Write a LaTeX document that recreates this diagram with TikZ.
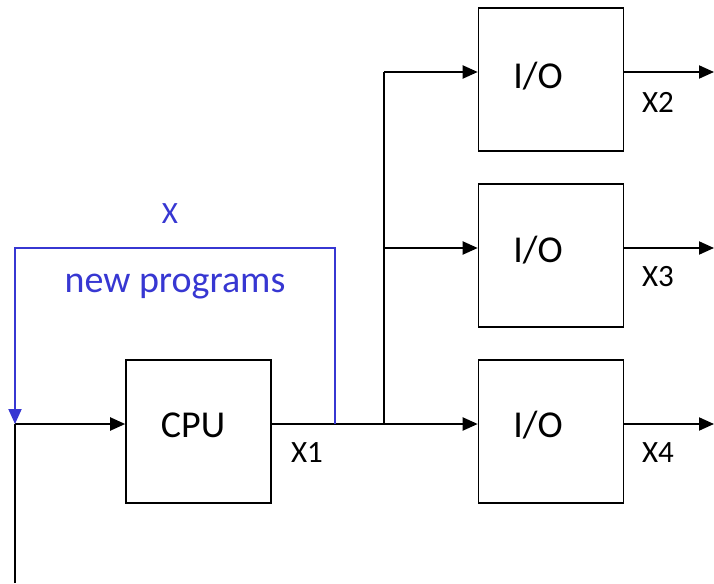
\documentclass[tikz,border=0pt]{standalone}
\usepackage{fontspec}
\setmainfont{Carlito}
\usetikzlibrary{arrows.meta}
\definecolor{fb}{RGB}{55,55,210}
\begin{document}
\begin{tikzpicture}[x=1pt,y=-1pt,
  box/.style={draw,line width=1.6pt,minimum width=145pt,minimum height=143pt,inner sep=0pt},
  conn/.style={line width=2pt},
  arr/.style={conn,-{Triangle[length=15pt,width=13pt]}},
  lbl/.style={font=\fontsize{38}{40}\selectfont},
  small/.style={font=\fontsize{31}{33}\selectfont},
  blue/.style={line width=2pt,draw=fb}]
\useasboundingbox (0,0) rectangle (714,583);
\node[box] (cpu) at (198.5,431.5) {};
\node[lbl] at (193,425) {CPU};
\node[box] (io1) at (551,79.5) {};
\node[box] (io2) at (551,255.5) {};
\node[box] (io3) at (551,431.5) {};
\node[lbl] at (538,76) {I/O};
\node[lbl] at (538,250) {I/O};
\node[lbl] at (538,425) {I/O};
\coordinate (j0) at (15,424);
\coordinate (jb) at (15,583);
\coordinate (j1) at (384,424);
\coordinate (j2) at (384,248);
\coordinate (j3) at (384,72);
\coordinate (b0) at (335,424);
\coordinate (o1) at (714,72);
\coordinate (o2) at (714,248);
\coordinate (o3) at (714,424);
\draw[conn] (jb) -- (j0);
\draw[arr] (j0) -- (cpu.west |- j0);
\draw[conn] (cpu.east |- j1) -- (j1);
\draw[arr] (j1) -- (io3.west |- j1);
\draw[conn] (j1) -- (j3);
\draw[arr] (j2) -- (io2.west |- j2);
\draw[arr] (j3) -- (io1.west |- j3);
\draw[arr] (io1.east |- o1) -- (o1);
\draw[arr] (io2.east |- o2) -- (o2);
\draw[arr] (io3.east |- o3) -- (o3);
\draw[blue,-{Triangle[length=15pt,width=13pt]},fb] (b0) -- (335,248) -- (15,248) -- (j0);
\node[small,text=fb] at (170,214) {X};
\node[lbl,text=fb] at (175,287) {new programs};
\node[small] at (307,453) {X1};
\node[small] at (658,102) {X2};
\node[small] at (658,277) {X3};
\node[small] at (658,453) {X4};
\end{tikzpicture}
\end{document}
